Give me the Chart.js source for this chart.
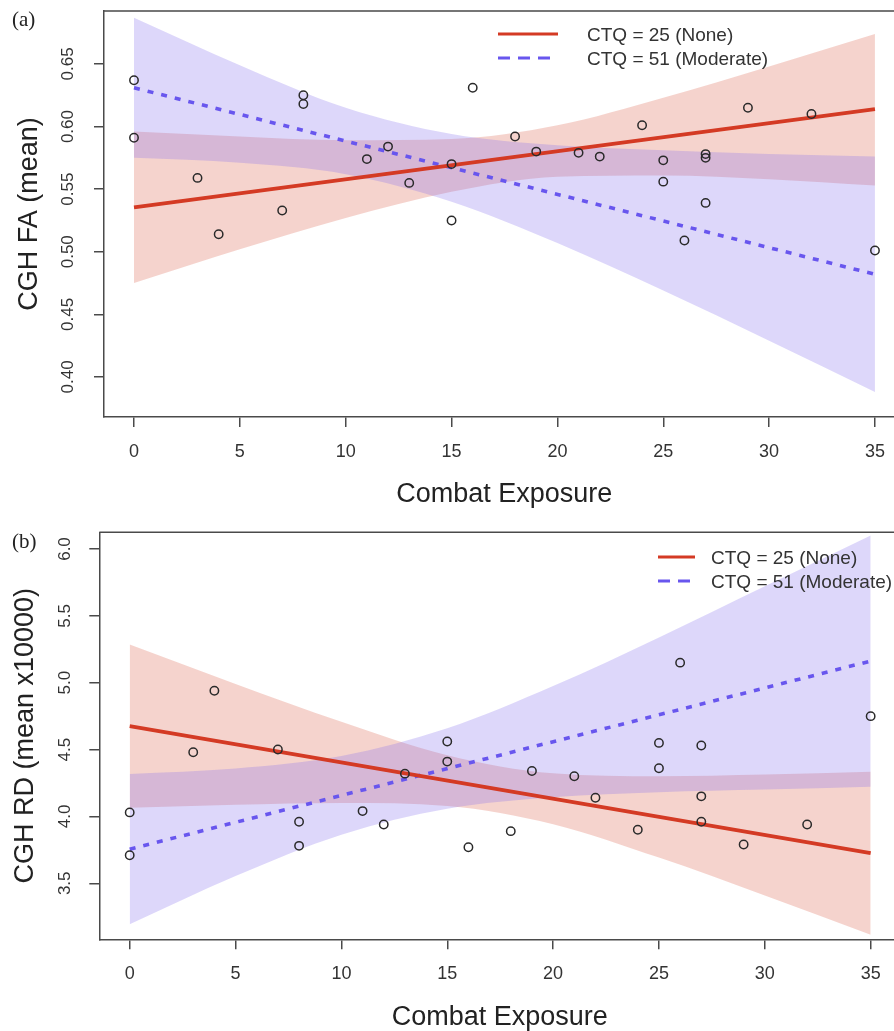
<!DOCTYPE html>
<html>
<head>
<meta charset="utf-8">
<script src="https://cdn.jsdelivr.net/npm/chart.js@4.4.1/dist/chart.umd.min.js"></script>
<style>
  html, body { margin: 0; padding: 0; background: #fff; overflow: hidden; }
  .panel { position: absolute; left: 0; }
  #wrapA { top: 0; }
  #wrapB { top: 515px; }
</style>
</head>
<body>
<div class="panel" id="wrapA"><canvas id="chartA" width="920" height="515"></canvas></div>
<div class="panel" id="wrapB"><canvas id="chartB" width="920" height="520"></canvas></div>
<script>
/* global Chart */

Chart.defaults.font.family = "'Liberation Sans', Arial, sans-serif";
Chart.defaults.color = '#333';

// combat exposure score of each subject (same subjects in both panels)
const subjX = [0, 0, 3, 4, 7, 8, 8, 11, 12, 13, 15, 15, 16, 18, 19, 21, 22, 24, 25, 25, 26, 27, 27, 27, 29, 32, 35];
const xTicks = [0, 5, 10, 15, 20, 25, 30, 35];

// fitted lines are read at their two ends, bands at every 5 points of exposure
const lineX = [0, 35];
const bandX = [0, 5, 10, 15, 20, 25, 30, 35];

// (a) CGH FA (mean)
const faPoints   = [0.637, 0.591, 0.559, 0.514, 0.533, 0.625, 0.618, 0.574, 0.584, 0.555, 0.570, 0.525, 0.631, 0.592,
                    0.580, 0.579, 0.576, 0.601, 0.573, 0.556, 0.509, 0.578, 0.575, 0.539, 0.615, 0.610, 0.501];
const faNone     = [0.5355, 0.614];
const faModerate = [0.631, 0.482];
const faNoneHi   = [0.596, 0.592, 0.589, 0.590, 0.601, 0.623, 0.648, 0.674];
const faNoneLo   = [0.475, 0.502, 0.527, 0.548, 0.560, 0.561, 0.558, 0.553];
const faModHi    = [0.687, 0.649, 0.615, 0.594, 0.585, 0.581, 0.578, 0.576];
const faModLo    = [0.575, 0.571, 0.562, 0.540, 0.507, 0.469, 0.429, 0.388];
const faTicks    = [0.40, 0.45, 0.50, 0.55, 0.60, 0.65];

// (b) CGH RD (mean x10000)
const rdPoints   = [4.03, 3.71, 4.48, 4.94, 4.50, 3.96, 3.78, 4.04, 3.94, 4.32, 4.56, 4.41, 3.77, 3.89,
                    4.34, 4.30, 4.14, 3.90, 4.55, 4.36, 5.15, 4.53, 4.15, 3.96, 3.79, 3.94, 4.75];
const rdNone     = [4.675, 3.725];
const rdModerate = [3.755, 5.162];
const rdNoneHi   = [5.285, 4.991, 4.708, 4.458, 4.322, 4.300, 4.313, 4.335];
const rdNoneLo   = [4.065, 4.087, 4.100, 4.078, 3.942, 3.692, 3.409, 3.115];
const rdModHi    = [4.317, 4.358, 4.451, 4.659, 4.975, 5.339, 5.721, 6.102];
const rdModLo    = [3.193, 3.554, 3.863, 4.057, 4.143, 4.181, 4.201, 4.222];
const rdTicks    = [3.5, 4.0, 4.5, 5.0, 5.5, 6.0];

const RED       = 'rgb(212,58,36)';
const BLUE      = 'rgb(104,86,238)';
const RED_FILL  = 'rgba(222,110,88,0.30)';
const BLUE_FILL = 'rgba(132,112,238,0.28)';
const AXIS      = '#4a4a4a';

const pairs = (xs, ys) => xs.map((x, i) => ({ x, y: ys[i] }));

// box top/right edge, panel letter and the legend, as R draws them
const decor = {
  id: 'decor',
  afterDraw(chart, args, o) {
    const { ctx, chartArea: a } = chart;
    ctx.save();
    ctx.strokeStyle = AXIS;
    ctx.lineWidth = 1.5;
    ctx.beginPath();
    ctx.moveTo(a.left, a.top);
    ctx.lineTo(a.right, a.top);
    ctx.lineTo(a.right, a.bottom);
    ctx.stroke();

    ctx.fillStyle = '#222';
    ctx.font = "21px 'Liberation Serif', serif";
    ctx.textBaseline = 'middle';
    ctx.fillText(o.tag, o.tagX, o.tagY);

    ctx.font = "19px 'Liberation Sans', Arial, sans-serif";
    chart.data.datasets.filter(d => d.label).forEach((d, i) => {
      const y = o.legY + i * o.legGap;
      ctx.strokeStyle = d.borderColor;
      ctx.lineWidth = 3;
      ctx.setLineDash(d.borderDash ? [12, 8] : []);
      ctx.beginPath();
      ctx.moveTo(o.legX, y);
      ctx.lineTo(o.legX + o.legLen, y);
      ctx.stroke();
      ctx.setLineDash([]);
      ctx.fillStyle = '#333';
      ctx.fillText(d.label, o.textX, y + 2);
    });
    ctx.restore();
  },
};

function buildPanel(id, p) {
  const band = (ys, fill, order) => ({
    data: pairs(bandX, ys),
    fill: fill ? '+1' : false,
    backgroundColor: fill || 'rgba(0,0,0,0)',
    borderColor: 'rgba(0,0,0,0)',
    borderWidth: 0,
    pointRadius: 0,
    cubicInterpolationMode: 'monotone',
    order,
  });

  return new Chart(document.getElementById(id), {
    type: 'line',
    data: {
      datasets: [
        {
          data: pairs(subjX, p.points),
          showLine: false,
          pointRadius: 4.2,
          pointBorderWidth: 1.5,
          pointBorderColor: '#2a2a2a',
          pointBackgroundColor: 'rgba(0,0,0,0)',
          order: 0,
        },
        {
          label: 'CTQ = 25 (None)',
          data: pairs(lineX, p.none),
          borderColor: RED,
          borderWidth: 3.8,
          pointRadius: 0,
          order: 1,
        },
        {
          label: 'CTQ = 51 (Moderate)',
          data: pairs(lineX, p.moderate),
          borderColor: BLUE,
          borderWidth: 3.6,
          borderDash: [6, 8],
          pointRadius: 0,
          order: 1,
        },
        band(p.noneHi, RED_FILL, 3),
        band(p.noneLo, null, 3),
        band(p.modHi, BLUE_FILL, 2),
        band(p.modLo, null, 2),
      ],
    },
    options: {
      responsive: false,
      animation: false,
      events: [],
      layout: { padding: { left: 0, top: p.top, right: p.padRight, bottom: 0 } },
      plugins: {
        legend: { display: false },
        tooltip: { enabled: false },
        decor: p.decor,
      },
      scales: {
        x: {
          type: 'linear',
          min: p.xMin,
          max: p.xMax,
          afterBuildTicks: s => { s.ticks = xTicks.map(v => ({ value: v })); },
          afterFit: s => { s.height = p.xHeight; s.paddingLeft = 0; s.paddingRight = 0; },
          grid: { drawOnChartArea: false, tickLength: 10, color: AXIS, lineWidth: 1.5 },
          border: { color: AXIS, width: 1.5 },
          ticks: { font: { size: 18 }, padding: 14, color: '#333', autoSkip: false, maxRotation: 0, callback: v => String(v) },
          title: { display: true, text: 'Combat Exposure', font: { size: 27 }, color: '#222', padding: { top: 0, bottom: p.xTitlePad } },
        },
        y: {
          min: p.yMin,
          max: p.yMax,
          afterBuildTicks: s => { s.ticks = p.yTicks.map(v => ({ value: v })); },
          // fixed gutter; drop the label overhang padding so the box top sits where R put it
          afterFit: s => { s.width = p.left; s.paddingTop = 0; s.paddingBottom = 0; },
          grid: { drawOnChartArea: false, tickLength: 10, color: AXIS, lineWidth: 1.5 },
          border: { color: AXIS, width: 1.5 },
          ticks: {
            font: { size: 17 }, padding: p.yTickPad, color: '#333', autoSkip: false,
            minRotation: 90, maxRotation: 90, crossAlign: 'center',
            callback: v => v.toFixed(p.decimals),
          },
          title: { display: true, text: p.yTitle, font: { size: 27 }, color: '#222', padding: { top: p.yTitlePad, bottom: 0 } },
        },
      },
    },
    plugins: [decor],
  });
}

buildPanel('chartA', {
  points: faPoints, none: faNone, moderate: faModerate,
  noneHi: faNoneHi, noneLo: faNoneLo, modHi: faModHi, modLo: faModLo,
  yTicks: faTicks, decimals: 2, yTitle: 'CGH FA (mean)',
  xMin: -1.417, xMax: 36.4, yMin: 0.368, yMax: 0.6923,
  top: 11, padRight: 15.4, left: 104, xHeight: 98,
  yTickPad: 9.5, yTitlePad: 13.8, xTitlePad: 3.8,
  decor: { tag: '(a)', tagX: 12, tagY: 20, legX: 498, legLen: 60, textX: 587, legY: 34, legGap: 24 },
});

buildPanel('chartB', {
  points: rdPoints, none: rdNone, moderate: rdModerate,
  noneHi: rdNoneHi, noneLo: rdNoneLo, modHi: rdModHi, modLo: rdModLo,
  yTicks: rdTicks, decimals: 1, yTitle: 'CGH RD (mean x10000)',
  xMin: -1.436, xMax: 36.4, yMin: 3.081, yMax: 6.125,
  top: 17.3, padRight: 19.7, left: 99.3, xHeight: 95.7,
  yTickPad: 12.5, yTitlePad: 9.8, xTitlePad: 1.5,
  decor: { tag: '(b)', tagX: 12, tagY: 27, legX: 658, legLen: 37, textX: 711, legY: 42, legGap: 24 },
});
</script>
</body>
</html>
